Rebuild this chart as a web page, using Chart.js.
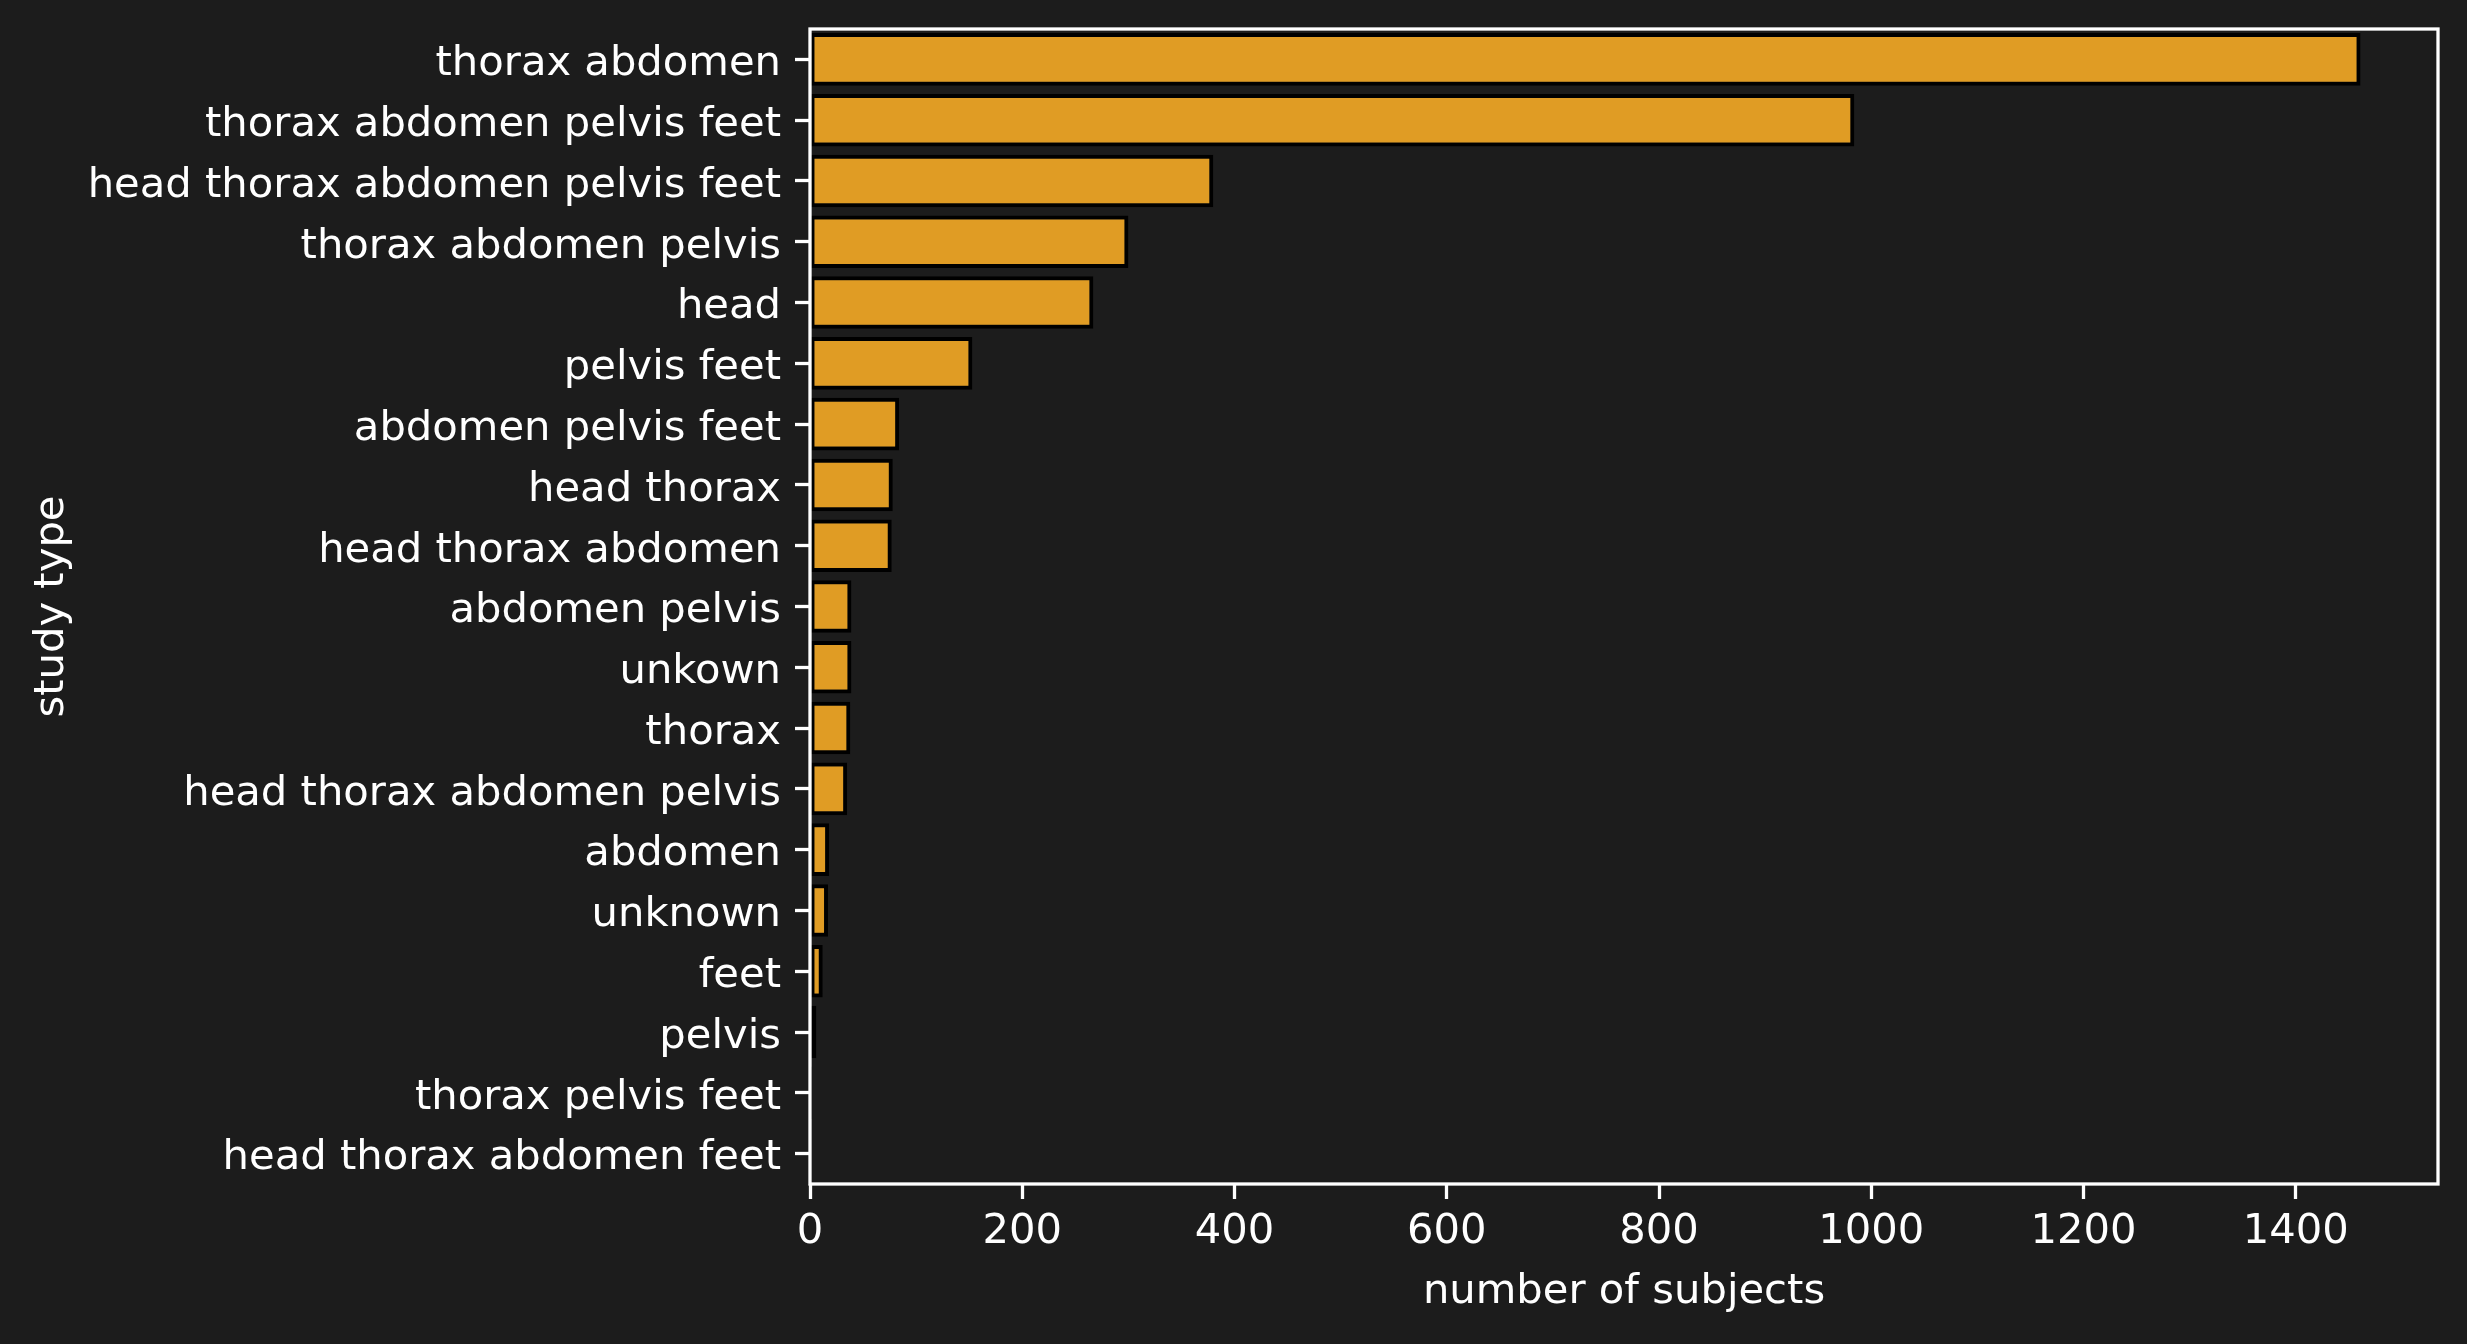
<!DOCTYPE html>
<html>
<head>
<meta charset="utf-8">
<title>study type</title>
<script src="https://cdn.jsdelivr.net/npm/chart.js@4.4.1/dist/chart.umd.min.js"></script>
<style>
  html, body { margin: 0; padding: 0; background: #1c1c1c; }
  #wrap { width: 2467px; height: 1344px; }
</style>
</head>
<body>
<div id="wrap"><canvas id="chart" width="2467" height="1344"></canvas></div>
<script>
// categorias (de cima para baixo) e contagens
const studyTypes = [
    'thorax abdomen',
    'thorax abdomen pelvis feet',
    'head thorax abdomen pelvis feet',
    'thorax abdomen pelvis',
    'head',
    'pelvis feet',
    'abdomen pelvis feet',
    'head thorax',
    'head thorax abdomen',
    'abdomen pelvis',
    'unkown',
    'thorax',
    'head thorax abdomen pelvis',
    'abdomen',
    'unknown',
    'feet',
    'pelvis',
    'thorax pelvis feet',
    'head thorax abdomen feet'
];
const subjectCounts = [1461, 984, 380, 300, 267, 153, 84, 78, 77, 39, 39, 38, 35, 18, 17, 12, 6, 2, 1];
const xTicks = [0, 200, 400, 600, 800, 1000, 1200, 1400];
const xMax = 1534;

const FONT = 'DejaVu Sans';
const FONT_SIZE = 41.7;
const TEXT = '#ffffff';
const SPINE_W = 3.3;

// moldura branca ao redor da área do gráfico (por cima das barras)
const frame = {
    id: 'frame',
    afterDatasetsDraw(chart) {
        const { ctx, chartArea } = chart;
        const { left, right, top, bottom } = chartArea;
        ctx.save();
        ctx.strokeStyle = TEXT;
        ctx.lineWidth = SPINE_W;
        ctx.strokeRect(left, top, right - left, bottom - top);
        ctx.restore();
    }
};

// rótulos do eixo y desenhados à mão para acertar o alinhamento vertical
const yLabels = {
    id: 'yLabels',
    afterDraw(chart) {
        const { ctx, chartArea } = chart;
        const yScale = chart.scales.y;
        ctx.save();
        ctx.fillStyle = TEXT;
        ctx.font = `${FONT_SIZE}px "${FONT}"`;
        ctx.textAlign = 'right';
        ctx.textBaseline = 'middle';
        const x = chartArea.left - 15 - 14;
        studyTypes.forEach((label, i) => {
            ctx.fillText(label, x, yScale.getPixelForValue(i) + 5);
        });
        ctx.restore();
    }
};

const ctx = document.getElementById('chart').getContext('2d');
new Chart(ctx, {
    type: 'bar',
    data: {
        labels: studyTypes,
        datasets: [{
            data: subjectCounts,
            backgroundColor: '#e09c24',
            borderColor: '#000000',
            borderWidth: 4,
            borderSkipped: false,
            categoryPercentage: 0.865,
            barPercentage: 1.0
        }]
    },
    options: {
        indexAxis: 'y',
        responsive: false,
        devicePixelRatio: 1,
        animation: false,
        layout: { padding: { top: 29, right: 29, left: 0, bottom: 0 } },
        plugins: {
            legend: { display: false },
            tooltip: { enabled: false }
        },
        scales: {
            x: {
                min: 0,
                max: xMax,
                afterFit: (scale) => {
                    scale.height = 160;
                    scale.paddingLeft = 0;
                    scale.paddingRight = 0;
                },
                afterBuildTicks: (scale) => { scale.ticks = xTicks.map(v => ({ value: v })); },
                grid: {
                    drawOnChartArea: false,
                    drawTicks: true,
                    tickLength: 15,
                    tickWidth: SPINE_W,
                    tickColor: TEXT
                },
                border: { display: false },
                ticks: {
                    color: TEXT,
                    font: { family: FONT, size: FONT_SIZE },
                    padding: 8,
                    maxRotation: 0,
                    callback: (value) => String(value)
                },
                title: {
                    display: true,
                    text: 'number of subjects',
                    color: TEXT,
                    font: { family: FONT, size: FONT_SIZE },
                    padding: { top: 0, bottom: 27 }
                }
            },
            y: {
                afterFit: (scale) => {
                    scale.width = 810;
                    scale.paddingTop = 0;
                    scale.paddingBottom = 0;
                },
                grid: {
                    offset: false,
                    drawOnChartArea: false,
                    drawTicks: true,
                    tickLength: 15,
                    tickWidth: SPINE_W,
                    tickColor: TEXT
                },
                border: { display: false },
                ticks: {
                    display: false,
                    autoSkip: false
                },
                title: {
                    display: true,
                    text: 'study type',
                    color: TEXT,
                    font: { family: FONT, size: FONT_SIZE },
                    padding: { top: 27, bottom: 0 }
                }
            }
        }
    },
    plugins: [frame, yLabels]
});
</script>
</body>
</html>
